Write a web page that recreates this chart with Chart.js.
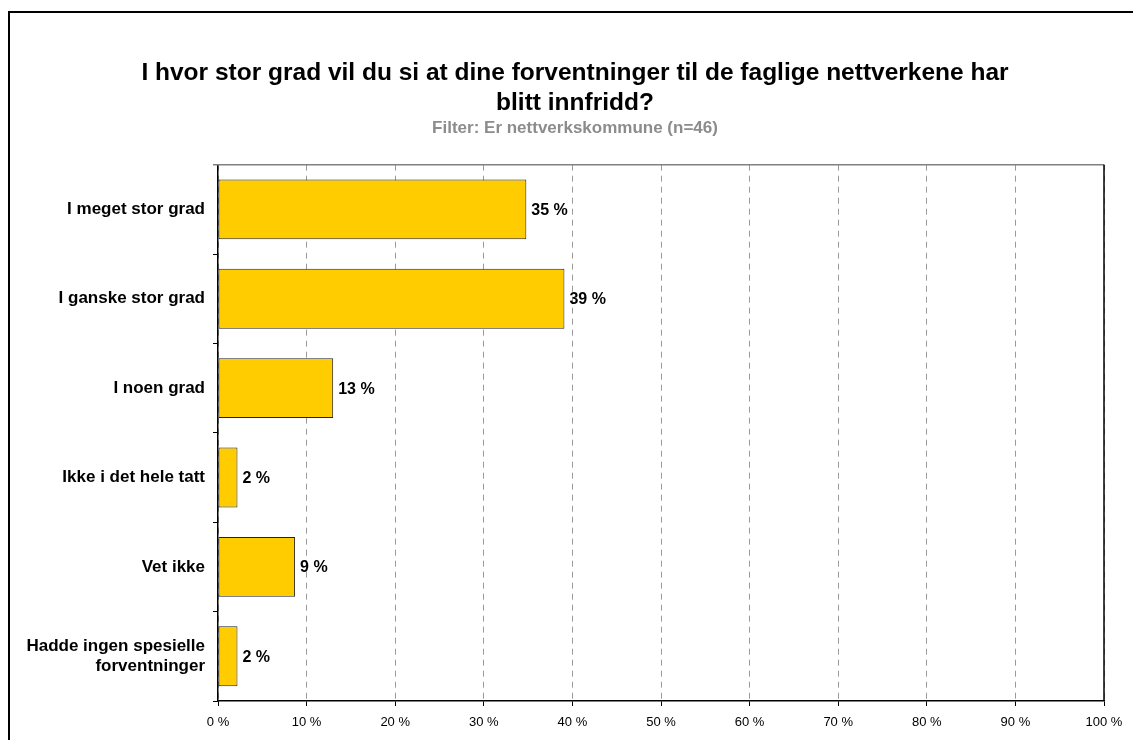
<!DOCTYPE html>
<html>
<head>
<meta charset="utf-8">
<script src="https://cdn.jsdelivr.net/npm/chart.js@4"></script>
<style>
  body { margin: 0; background: #fff; }
  #wrap { position: relative; width: 1133px; height: 740px; overflow: hidden; }
  /* outer frame of the chart object, only left and top edges are visible */
  #frame { position: absolute; left: 8px; top: 11px; width: 1200px; height: 800px;
           border-left: 2px solid #000; border-top: 2px solid #000; }
  #chart { position: absolute; left: 0; top: 0; }
</style>
</head>
<body>
<div id="wrap">
  <div id="frame"></div>
  <canvas id="chart" width="1133" height="740"></canvas>
</div>
<script>
"use strict"

// data (n=46)
const categories = [
  "I meget stor grad",
  "I ganske stor grad",
  "I noen grad",
  "Ikke i det hele tatt",
  "Vet ikke",
  ["Hadde ingen spesielle", "forventninger"]
];
const percentages = [34.8, 39.1, 13.0, 2.2, 8.7, 2.2];

const titleLines = [
  "I hvor stor grad vil du si at dine forventninger til de faglige nettverkene har",
  "blitt innfridd?"
];
const subtitleText = "Filter: Er nettverkskommune (n=46)";

const fontFamily = "Arial, 'Liberation Sans', sans-serif";

// labels like "35 %" right of each bar
const barLabels = {
  id: "barLabels",
  afterDatasetsDraw(chart) {
    const ctx = chart.ctx;
    const meta = chart.getDatasetMeta(0);
    ctx.save();
    ctx.font = "bold 16px " + fontFamily;
    ctx.fillStyle = "#000";
    ctx.textAlign = "left";
    ctx.textBaseline = "middle";
    meta.data.forEach(function (bar, i) {
      ctx.fillText(Math.round(percentages[i]) + " %", bar.x + 5, bar.y + 1);
    });
    ctx.restore();
  }
};

// title + subtitle sit a bit right of the canvas middle in the original
const titleShift = {
  id: "titleShift",
  afterLayout(chart) {
    chart.boxes.forEach(function (box) {
      if (!box.axis && box.options && box.options.text !== undefined) {
        box.left += 23;
        box.right += 23;
      }
    });
  }
};

// top (grey) and right (black) edge of the plot area
const plotFrame = {
  id: "plotFrame",
  afterDraw(chart) {
    const a = chart.chartArea;
    const ctx = chart.ctx;
    ctx.save();
    ctx.lineWidth = 1.5;
    ctx.strokeStyle = "#808080";
    ctx.beginPath();
    ctx.moveTo(a.left - 5, a.top);
    ctx.lineTo(a.right, a.top);
    ctx.stroke();
    ctx.strokeStyle = "#000";
    ctx.beginPath();
    ctx.moveTo(a.right, a.top);
    ctx.lineTo(a.right, a.bottom);
    ctx.stroke();
    ctx.restore();
  }
};

const data = {
  labels: categories,
  datasets: [
    {
      data: percentages,
      backgroundColor: "#FFCC00",
      borderColor: "#222",
      borderWidth: 1,
      borderSkipped: false,
      barPercentage: 0.67,
      categoryPercentage: 1
    }
  ]
};

const config = {
  type: "bar",
  data: data,
  options: {
    indexAxis: "y",
    responsive: false,
    animation: false,
    layout: { padding: { left: 0, right: 29, top: 0, bottom: 0 } },
    plugins: {
      legend: { display: false },
      tooltip: { enabled: false },
      title: {
        display: true,
        text: titleLines,
        color: "#000",
        font: { family: fontFamily, size: 24.5, weight: "bold", lineHeight: 1.22 },
        padding: { top: 58, bottom: 0 }
      },
      subtitle: {
        display: true,
        text: subtitleText,
        color: "#8c8c8c",
        font: { family: fontFamily, size: 17, weight: "bold", lineHeight: 1.2 },
        padding: { top: 0, bottom: 26.5 }
      }
    },
    scales: {
      x: {
        min: 0,
        max: 100,
        afterFit(scale) { scale.height = 39; },
        ticks: {
          stepSize: 10,
          padding: 9,
          color: "#000",
          font: { family: fontFamily, size: 13 },
          callback: function (v) { return v + " %"; }
        },
        grid: {
          color: "#9a9a9a",
          lineWidth: 1,
          tickLength: 5,
          tickColor: "#000"
        },
        border: { color: "#000", width: 1.5, dash: [6, 5] }
      },
      y: {
        afterFit(scale) { scale.width = 218; },
        ticks: {
          padding: 8,
          color: "#000",
          font: { family: fontFamily, size: 17, weight: "bold" }
        },
        grid: {
          offset: true,
          drawOnChartArea: false,
          tickLength: 5,
          tickColor: "#000"
        },
        border: { color: "#000", width: 1.5 }
      }
    }
  },
  plugins: [barLabels, titleShift, plotFrame]
};

const myChart = new Chart(document.getElementById("chart"), config);
</script>
</body>
</html>
